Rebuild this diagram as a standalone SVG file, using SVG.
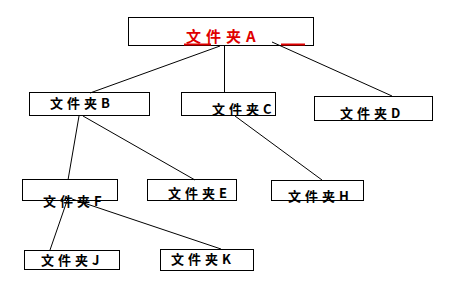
<svg xmlns="http://www.w3.org/2000/svg" width="458" height="304" viewBox="0 0 458 304">
<style>
.box{fill:#fff;stroke:#000;stroke-width:1}
.lbl{font-family:"Noto Sans CJK SC","Liberation Sans",sans-serif;font-size:13px;font-weight:bold;letter-spacing:4px;fill:#000}
.title{font-family:"Noto Sans CJK SC","Liberation Sans",sans-serif;font-size:15px;font-weight:bold;letter-spacing:5px;fill:#e00000}
.con{stroke:#000;stroke-width:1;fill:none}
</style>
<rect width="458" height="304" fill="#fff"/>
<g id="nodeA">
<rect class="box" x="128.5" y="17.5" width="185" height="28"/>
<text class="title" x="186" y="42">文件夹A</text>
<line x1="184" y1="44.5" x2="211" y2="44.5" stroke="#e00000" stroke-width="2"/>
<line x1="281" y1="44.5" x2="305" y2="44.5" stroke="#e00000" stroke-width="2"/>
</g>
<g id="nodeB">
<rect class="box" x="29.5" y="92.5" width="120" height="23"/>
<text class="lbl" x="50" y="108">文件夹B</text>
</g>
<g id="nodeC">
<rect class="box" x="181.5" y="92.5" width="94" height="23"/>
<text class="lbl" x="212" y="114">文件夹C</text>
</g>
<g id="nodeD">
<rect class="box" x="314.5" y="96.5" width="118" height="24"/>
<text class="lbl" x="340" y="118">文件夹D</text>
</g>
<g id="nodeF">
<rect class="box" x="22.5" y="179.5" width="95" height="21"/>
<text class="lbl" x="43" y="206">文件夹F</text>
</g>
<g id="nodeE">
<rect class="box" x="147.5" y="179.5" width="89" height="21"/>
<text class="lbl" x="168" y="198">文件夹E</text>
</g>
<g id="nodeH">
<rect class="box" x="271.5" y="180.5" width="92" height="20"/>
<text class="lbl" x="288" y="201">文件夹H</text>
</g>
<g id="nodeJ">
<rect class="box" x="24.5" y="250.5" width="95" height="19"/>
<text class="lbl" x="41" y="265">文件夹J</text>
</g>
<g id="nodeK">
<rect class="box" x="160.5" y="249.5" width="93" height="21"/>
<text class="lbl" x="171" y="264">文件夹K</text>
</g>
<g id="connectors">
<line class="con" x1="220" y1="46" x2="90" y2="93"/>
<line class="con" x1="224.5" y1="46" x2="224.5" y2="93"/>
<line class="con" x1="272" y1="42" x2="392" y2="96"/>
<line class="con" x1="79" y1="116" x2="68" y2="180"/>
<line class="con" x1="83" y1="116" x2="195" y2="180"/>
<line class="con" x1="235" y1="116" x2="322" y2="180"/>
<line class="con" x1="68" y1="198" x2="50" y2="250"/>
<line class="con" x1="72" y1="199" x2="221" y2="249"/>
</g>
</svg>
